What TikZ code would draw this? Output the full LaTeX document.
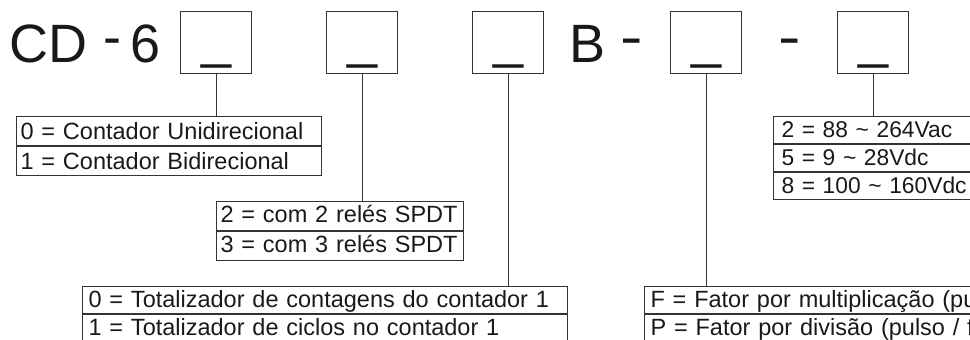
\documentclass[tikz,border=0pt]{standalone}
\usepackage{fontspec}
\usepackage{graphicx}
\setmainfont{Liberation Sans}
\begin{document}
\begin{tikzpicture}[x=1pt,y=-1pt,
  line/.style={line width=1.1pt, draw=black!80},
  codebox/.style={line, draw, minimum width=71pt, minimum height=62pt, inner sep=0pt,
    text height=46pt, text depth=16pt, anchor=north west, text=black!90,
    font=\fontsize{54}{60}\selectfont},
  big/.style={inner sep=0pt, anchor=base west, text=black!90, font=\fontsize{54}{60}\selectfont},
  bigdash/.style={inner sep=0pt, anchor=base, text=black!90, font=\fontsize{54}{60}\selectfont},
  row/.style={line, draw, anchor=north west, inner ysep=0pt, align=left, text=black!90,
    font=\fontsize{23.5}{26}\selectfont},
  vrow/.style={row, text width=202pt, inner xsep=8pt, text height=21pt, text depth=6pt,
    minimum height=27pt, font=\fontsize{22.8}{26}\selectfont},
]
\useasboundingbox (0,0) rectangle (970,340);
\clip (0,0) rectangle (970,340);

% heading
\node[big] (cd) at (9,62) {CD};
\node[bigdash] (d1) at (112,55.5) {-};
\node[big] (six) at (130,62) {6};
\node[big] (bb) at (569,62) {B};
\node[bigdash] (d2) at (632,56) {\scalebox{1.25}[1]{-}};
\node[bigdash] (d3) at (789.5,56) {\scalebox{1.25}[1]{-}};

% code boxes
\node[codebox] (b1) at (180,11) {\_};
\node[codebox] (b2) at (326,11) {\_};
\node[codebox] (b3) at (472,11) {\_};
\node[codebox] (b4) at (670,11) {\_};
\node[codebox] (b5) at (837,11) {\_};

% option lists
\node[row, text width=297pt, inner xsep=4pt, text height=23pt, text depth=6pt, minimum height=29pt] (l1a) at (16,116) {0 = Contador Unidirecional};
\node[row, text width=297pt, inner xsep=4pt, text height=23pt, text depth=6pt, minimum height=29pt] (l1b) at (l1a.south west) {1 = Contador Bidirecional};

\node[row, text width=239pt, inner xsep=4pt, text height=21pt, text depth=8pt, minimum height=29pt] (l2a) at (216,201) {2 = com 2 relés SPDT};
\node[row, text width=239pt, inner xsep=4pt, text height=21pt, text depth=8pt, minimum height=29pt] (l2b) at (l2a.south west) {3 = com 3 relés SPDT};

\node[row, text width=473pt, inner xsep=6pt, text height=21pt, text depth=6pt, minimum height=27pt] (l3a) at (82,286) {0 = Totalizador de contagens do contador 1};
\node[row, text width=473pt, inner xsep=6pt, text height=21pt, text depth=10pt, minimum height=31pt] (l3b) at (l3a.south west) {1 = Totalizador de ciclos no contador 1};

\node[row, text width=388pt, inner xsep=6pt, text height=21pt, text depth=6pt, minimum height=27pt] (l4a) at (644,286) {F = Fator por multiplicação (pu};
\node[row, text width=388pt, inner xsep=6pt, text height=21pt, text depth=10pt, minimum height=31pt] (l4b) at (l4a.south west) {P = Fator por divisão (pulso / f};

\node[vrow] (l5a) at (773,116) {2 = 88 \textasciitilde{} 264Vac};
\node[vrow] (l5b) at (l5a.south west) {5 = 9 \textasciitilde{} 28Vdc};
\node[vrow] (l5c) at (l5b.south west) {8 = 100 \textasciitilde{} 160Vdc};

% connectors
\draw[line] (b1.south) -- (b1.south |- l1a.north);
\draw[line] (b2.south) -- (b2.south |- l2a.north);
\draw[line] (b3.south) -- (b3.south |- l3a.north);
\draw[line] (b4.south) -- (b4.south |- l4a.north);
\draw[line] (b5.south) -- (b5.south |- l5a.north);
\end{tikzpicture}
\end{document}
